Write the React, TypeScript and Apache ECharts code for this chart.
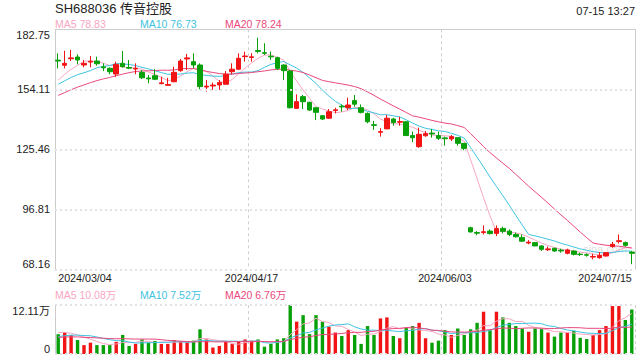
import React, { useEffect, useRef } from 'react';
import * as echarts from 'echarts';

const dates = [
  '2024/03/04','2024/03/05','2024/03/06','2024/03/07','2024/03/08','2024/03/11','2024/03/12','2024/03/13','2024/03/14','2024/03/15',
  '2024/03/18','2024/03/19','2024/03/20','2024/03/21','2024/03/22','2024/03/25','2024/03/26','2024/03/27','2024/03/28','2024/03/29',
  '2024/04/01','2024/04/02','2024/04/03','2024/04/08','2024/04/09','2024/04/10','2024/04/11','2024/04/12','2024/04/15','2024/04/16',
  '2024/04/17','2024/04/18','2024/04/19','2024/04/22','2024/04/23','2024/04/24','2024/04/25','2024/04/26','2024/04/29','2024/04/30',
  '2024/05/06','2024/05/07','2024/05/08','2024/05/09','2024/05/10','2024/05/13','2024/05/14','2024/05/15','2024/05/16','2024/05/17',
  '2024/05/20','2024/05/21','2024/05/22','2024/05/23','2024/05/24','2024/05/27','2024/05/28','2024/05/29','2024/05/30','2024/05/31',
  '2024/06/03','2024/06/04','2024/06/05','2024/06/06','2024/06/07','2024/06/11','2024/06/12','2024/06/13','2024/06/14','2024/06/17',
  '2024/06/18','2024/06/19','2024/06/20','2024/06/21','2024/06/24','2024/06/25','2024/06/26','2024/06/27','2024/06/28','2024/07/01',
  '2024/07/02','2024/07/03','2024/07/04','2024/07/05','2024/07/08','2024/07/09','2024/07/10','2024/07/11','2024/07/12','2024/07/15',
];

const opens = [
  168.0,165.6,168.7,169.5,165.7,167.1,167.6,164.8,164.1,161.4,
  166.5,164.5,163.8,162.2,159.5,160.6,156.8,156.0,157.7,163.0,
  168.6,167.3,165.7,155.2,155.7,156.2,156.5,162.5,163.7,169.7,
  169.3,172.6,171.6,169.9,169.2,165.7,162.8,145.0,150.6,147.9,
  145.3,141.5,140.3,144.0,146.0,145.3,148.7,145.3,142.6,137.2,
  133.6,135.2,139.9,138.4,138.6,132.0,126.7,131.9,133.2,132.0,
  130.9,130.4,131.0,128.3,88.0,85.7,85.7,86.4,85.3,87.7,
  86.4,84.8,83.4,80.7,80.9,79.3,77.5,78.2,77.3,75.8,
  76.9,75.4,75.1,74.0,73.7,74.5,79.0,81.4,80.9,76.4,
];
const closes = [
  167.6,166.5,169.1,168.1,166.5,167.5,166.3,164.4,162.5,166.0,
  164.9,164.2,164.1,159.6,159.1,158.9,157.2,156.4,162.2,167.6,
  169.1,165.7,155.4,155.6,156.1,157.3,161.3,163.7,168.9,170.0,
  169.6,172.2,171.3,169.6,164.1,163.0,145.3,148.2,148.2,144.2,
  143.1,139.9,143.4,144.3,145.7,146.6,147.0,143.1,138.6,136.9,
  133.9,140.3,138.2,138.7,132.0,131.0,132.6,132.9,132.8,130.7,
  130.5,131.5,128.3,125.9,86.0,85.4,86.1,85.2,87.6,86.3,
  84.8,83.7,81.6,81.1,79.3,77.7,77.9,76.9,76.9,77.4,
  75.3,75.2,74.9,74.3,74.8,76.1,80.1,81.8,79.6,75.8,
];
const lows = [
  164.1,164.1,167.6,166.0,164.6,164.6,165.4,162.8,161.3,160.1,
  164.4,163.7,161.3,159.0,157.0,158.5,156.5,155.8,157.5,162.5,
  163.3,164.1,154.1,153.0,153.8,153.8,156.5,161.3,163.3,167.3,
  167.3,171.3,170.5,168.1,163.3,158.5,145.0,144.7,144.7,143.7,
  139.4,139.4,140.0,142.6,143.4,144.2,145.8,142.6,137.9,134.7,
  131.5,135.2,136.7,136.7,132.0,128.8,126.2,131.5,131.0,129.9,
  127.2,129.4,127.2,125.0,85.7,84.4,84.8,84.8,84.0,85.3,
  84.0,83.3,81.2,80.1,79.3,76.9,76.9,76.4,76.1,75.3,
  74.8,74.5,74.2,72.9,73.2,74.3,78.5,80.5,79.0,70.6,
];
const highs = [
  171.3,172.5,172.9,170.8,168.1,170.0,169.7,166.5,164.6,167.3,
  172.4,168.1,166.5,163.3,160.9,163.7,160.1,159.6,164.9,168.6,
  171.0,171.3,166.5,158.5,157.3,158.5,162.8,166.5,171.3,172.1,
  171.3,178.7,176.1,172.1,169.7,166.0,163.3,151.7,151.4,148.2,
  145.3,141.8,144.7,145.3,146.9,150.1,151.4,146.9,143.1,139.0,
  135.5,141.8,140.5,141.0,139.0,133.9,135.8,134.2,135.2,133.9,
  131.5,132.3,131.0,128.3,88.5,86.4,89.1,87.2,89.1,88.5,
  87.2,85.7,84.8,82.1,80.9,79.6,79.0,78.5,78.0,78.0,
  77.2,76.1,75.8,75.6,76.4,76.4,81.2,84.8,81.4,76.9,
];
// volume in 万 (10k shares)
const volumes = [
  4.9,5.4,4.7,3.45,2.2,2.8,2.2,2.2,2.2,3.0,
  4.7,2.0,2.5,3.6,2.8,3.2,2.5,2.5,3.45,3.2,
  3.0,3.3,6.1,3.6,1.6,2.0,3.0,2.5,3.0,3.6,
  3.3,3.6,1.8,2.5,3.6,3.9,12.1,8.0,9.6,4.9,
  9.6,8.0,6.75,5.3,4.45,5.9,4.7,2.5,6.9,4.7,
  8.8,9.05,4.45,3.9,6.6,6.9,7.7,3.9,2.8,3.3,
  5.9,4.7,6.3,4.7,6.1,7.7,10.45,5.9,10.45,9.05,
  7.7,6.9,6.3,5.5,6.3,6.3,5.3,4.3,5.3,5.3,
  5.75,4.0,3.7,4.7,5.9,6.9,11.85,11.85,8.4,11.0,
];
// closes / volumes of the 19 sessions before the visible window (for moving averages)
const priorCloses = [140,142,143,145,146,147,148,149,149,150,150,153,155,157,157.4,153,157,159,156];
const priorVolumes = [3.5,4.0,3.6,4.2,3.8,4.1,3.7,4.0,3.9,4.2,3.1,3.5,3.3,3.2,3.4,5.2,5.8,5.4,5.2];

const yTickValues = [68.16, 96.8075, 125.455, 154.1025, 182.75];
const yTickLabels = ['68.16', '96.81', '125.46', '154.11', '182.75'];
const volMax = 12.11;
const volTickLabels = ['0', '12.11万'];
const xLabelIdx = [0, 30, 60, 89];
const xSplitIdx = [30, 60];

const titleText = 'SH688036 传音控股';
const timeText = '07-15 13:27';
const priceLegend = ['MA5 78.83', 'MA10 76.73', 'MA20 78.24'];
const volLegend = ['MA5 10.08万', 'MA10 7.52万', 'MA20 6.76万'];

const UP = '#f01414';
const DOWN = '#08a008';
const MA_COLORS = ['#f7a6c2', '#3fc3e0', '#e9487c'];
const FONT = '"Liberation Sans", Arial, "Noto Sans CJK SC", sans-serif';

function movingAvg(vals: number[], prior: number[], n: number): number[] {
  const all = prior.concat(vals);
  return vals.map((_, i) => {
    const end = prior.length + i;
    let s = 0;
    for (let k = end - n + 1; k <= end; k++) s += all[k];
    return +(s / n).toFixed(3);
  });
}

export default function App() {
  const ref = useRef<HTMLDivElement>(null);
  useEffect(() => {
    if (!ref.current) return;
    const chart = echarts.init(ref.current, null, { renderer: 'svg' });
    const candleData = dates.map((_, i) => [opens[i], closes[i], lows[i], highs[i]]);
    const volData = volumes.map((v, i) => ({
      value: v,
      itemStyle: { color: closes[i] >= opens[i] ? UP : DOWN },
    }));
    const dotted = { color: '#e2e2e2', width: 2, type: [2, 3] as any };
    const dashedV = { color: '#cfcfcf', width: 1, type: [3, 3] as any };
    const splitFn = (idx: number) => xSplitIdx.indexOf(idx) >= 0;
    const labelFn = (idx: number) => xLabelIdx.indexOf(idx) >= 0;
    const maLine = (name: string, data: number[], color: string, xi: number, yi: number) => ({
      name, type: 'line', data, xAxisIndex: xi, yAxisIndex: yi,
      symbol: 'none', smooth: false, silent: true,
      lineStyle: { color, width: 1 }, z: 3,
    });
    const textEl = (text: string, x: number, y: number, color: string, size: number, align = 'left') => ({
      type: 'text', x, y, silent: true,
      style: { text, fill: color, fontSize: size, fontFamily: FONT, align, verticalAlign: 'middle' },
    });
    const option: any = {
      animation: false,
      backgroundColor: '#ffffff',
      textStyle: { fontFamily: FONT },
      grid: [
        { left: 55, right: 5, top: 29.3, height: 240, outerBoundsMode: 'none' },
        { left: 55, right: 5, top: 305, height: 49, outerBoundsMode: 'none' },
      ],
      xAxis: [
        {
          type: 'category', gridIndex: 0, data: dates, boundaryGap: true,
          axisLine: { show: false }, axisTick: { show: false },
          axisLabel: {
            show: true, interval: labelFn, color: '#222', fontSize: 10.7, margin: 3,
            alignMinLabel: 'left', alignMaxLabel: 'right', fontFamily: FONT,
          },
          splitLine: { show: true, interval: splitFn, lineStyle: dashedV },
        },
        {
          type: 'category', gridIndex: 0, data: dates, position: 'top', boundaryGap: true,
          axisLine: { show: true, lineStyle: { color: '#cccccc', width: 1 } },
          axisTick: { show: false }, axisLabel: { show: false }, splitLine: { show: false },
        },
        {
          type: 'category', gridIndex: 1, data: dates, boundaryGap: true,
          axisLine: { show: false }, axisTick: { show: false }, axisLabel: { show: false },
          splitLine: { show: true, interval: splitFn, lineStyle: dashedV },
        },
      ],
      yAxis: [
        {
          type: 'value', gridIndex: 0, min: yTickValues[0], max: yTickValues[yTickValues.length - 1],
          axisLine: { show: true, lineStyle: { color: '#cccccc', width: 1 } },
          axisTick: { show: false }, splitLine: { show: false },
          axisLabel: {
            show: true, customValues: yTickValues, color: '#222', fontSize: 11, margin: 5, fontFamily: FONT,
            verticalAlignMinLabel: 'bottom', verticalAlignMaxLabel: 'top',
            formatter: (v: number) => {
              const k = yTickValues.findIndex((t) => Math.abs(t - v) < 1e-6);
              return k >= 0 ? yTickLabels[k] : '';
            },
          },
        },
        {
          type: 'value', gridIndex: 0, position: 'right', min: 0, max: 1,
          axisLine: { show: true, lineStyle: { color: '#cccccc', width: 1 } },
          axisTick: { show: false }, axisLabel: { show: false }, splitLine: { show: false },
        },
        {
          type: 'value', gridIndex: 1, min: 0, max: volMax,
          axisLine: { show: true, lineStyle: { color: '#cccccc', width: 1 } },
          axisTick: { show: false }, splitLine: { show: false },
          axisLabel: {
            show: true, customValues: [0, volMax], color: '#222', fontSize: 11, margin: 5, fontFamily: FONT,
            verticalAlignMinLabel: 'bottom', verticalAlignMaxLabel: 'top',
            formatter: (v: number) => (v < 1e-6 ? volTickLabels[0] : volTickLabels[1]),
          },
        },
      ],
      series: [
        {
          name: 'K', type: 'candlestick', data: candleData, xAxisIndex: 0, yAxisIndex: 0,
          barWidth: 5, silent: true, z: 4,
          itemStyle: { color: UP, color0: DOWN, borderColor: UP, borderColor0: DOWN, borderWidth: 1 },
          markLine: {
            silent: true, symbol: 'none', label: { show: false }, animation: false,
            lineStyle: dotted,
            data: yTickValues.slice(0, yTickValues.length - 1).map((v) => ({ yAxis: v })),
          },
        },
        maLine('MA5', movingAvg(closes, priorCloses, 5), MA_COLORS[0], 0, 0),
        maLine('MA10', movingAvg(closes, priorCloses, 10), MA_COLORS[1], 0, 0),
        maLine('MA20', movingAvg(closes, priorCloses, 20), MA_COLORS[2], 0, 0),
        {
          name: 'VOL', type: 'bar', data: volData, xAxisIndex: 2, yAxisIndex: 2,
          barWidth: 3.4, silent: true, z: 2,
          markLine: {
            silent: true, symbol: 'none', label: { show: false }, animation: false,
            lineStyle: dotted,
            data: [{ yAxis: 0 }, { yAxis: volMax }],
          },
        },
        maLine('VMA5', movingAvg(volumes, priorVolumes, 5), MA_COLORS[0], 2, 2),
        maLine('VMA10', movingAvg(volumes, priorVolumes, 10), MA_COLORS[1], 2, 2),
        maLine('VMA20', movingAvg(volumes, priorVolumes, 20), MA_COLORS[2], 2, 2),
      ],
      graphic: [
        textEl(titleText, 55, 8, '#222', 13),
        textEl(timeText, 635, 10.5, '#222', 11, 'right'),
        textEl(priceLegend[0], 55, 24, MA_COLORS[0], 10.5),
        textEl(priceLegend[1], 140, 24, MA_COLORS[1], 10.5),
        textEl(priceLegend[2], 225, 24, MA_COLORS[2], 10.5),
        textEl(volLegend[0], 55, 295, MA_COLORS[0], 10.5),
        textEl(volLegend[1], 140, 295, MA_COLORS[1], 10.5),
        textEl(volLegend[2], 225, 295, MA_COLORS[2], 10.5),
        {
          type: 'text', x: 583, y: 249, silent: true, z: 1,
          style: { text: 'sina.com', fill: 'rgba(180,180,180,0.45)', fontSize: 11, fontFamily: FONT, verticalAlign: 'middle' },
        },
      ],
    };
    chart.setOption(option);
    return () => chart.dispose();
  }, []);
  return (
    <div
      ref={ref}
      style={{ position: 'fixed', left: 0, top: 0, width: 640, height: 360, background: '#fff' }}
    />
  );
}
